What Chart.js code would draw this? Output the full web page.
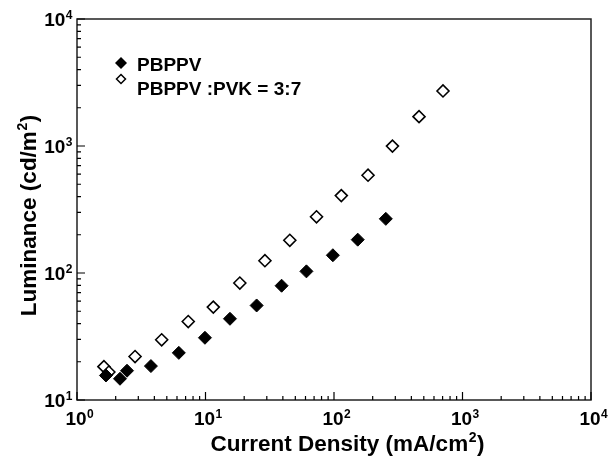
<!DOCTYPE html>
<html>
<head>
<meta charset="utf-8">
<script src="https://cdn.jsdelivr.net/npm/chart.js@4"></script>
<style>
  html, body { margin: 0; padding: 0; background: #fff; }
</style>
</head>
<body>
<canvas id="chartLuminance" width="608" height="457"></canvas>
<script>
// PBPPV (filled diamonds)
const pbppvX = [1.68, 2.16, 2.45, 3.76, 6.2, 9.9, 15.5, 25.0, 39.1, 61, 98, 153, 253];
const pbppvY = [15.6, 14.7, 17.0, 18.5, 23.5, 30.9, 43.6, 55.5, 79.4, 103, 138, 183, 267];

// PBPPV:PVK = 3:7 (open diamonds)
const blendX = [1.62, 1.77, 2.83, 4.56, 7.34, 11.5, 18.5, 29.0, 45.3, 73.1, 114, 184, 285, 459, 705];
const blendY = [18.3, 16.6, 22.0, 29.8, 41.5, 53.9, 83.4, 125, 181, 277, 407, 589, 998, 1703, 2713];

const xDecades = [1, 10, 100, 1000, 10000];
const yDecades = [10, 100, 1000, 10000];
const xExp = ['0', '1', '2', '3', '4'];
const yExp = ['1', '2', '3', '4'];

const legendLabels = ['PBPPV', 'PBPPV :PVK = 3:7'];
const xTitle = 'Current Density (mA/cm';
const yTitle = 'Luminance (cd/m';

function toPoints(xs, ys) {
  return xs.map((x, i) => ({ x: x, y: ys[i] }));
}

const FONT = "'Liberation Sans', Arial, sans-serif";

function drawDiamond(ctx, x, y, r, filled) {
  ctx.beginPath();
  ctx.moveTo(x, y - r);
  ctx.lineTo(x + r, y);
  ctx.lineTo(x, y + r);
  ctx.lineTo(x - r, y);
  ctx.closePath();
  if (filled) {
    ctx.fillStyle = '#000';
    ctx.fill();
  } else {
    ctx.fillStyle = '#fff';
    ctx.fill();
    ctx.lineWidth = 1.5;
    ctx.strokeStyle = '#000';
    ctx.stroke();
  }
}

// "10" with a raised exponent, centred on (x, y)
function drawPow(ctx, x, y, exp, align) {
  ctx.textBaseline = 'alphabetic';
  ctx.textAlign = 'left';
  ctx.font = 'bold 19px ' + FONT;
  const wBase = ctx.measureText('10').width;
  ctx.font = 'bold 12px ' + FONT;
  const wExp = ctx.measureText(exp).width;
  let left;
  if (align === 'right') left = x - wBase - wExp - 1;
  else left = x - wBase / 2 - 1;
  ctx.fillStyle = '#000';
  ctx.font = 'bold 19px ' + FONT;
  ctx.fillText('10', left, y + 7);
  ctx.font = 'bold 12px ' + FONT;
  ctx.fillText(exp, left + wBase + 0.5, y - 0.5);
}

// title text with a superscript "2" before the closing bracket
function drawTitle(ctx, text, cx, by) {
  ctx.font = 'bold 22.5px ' + FONT;
  const w1 = ctx.measureText(text).width;
  ctx.font = 'bold 14px ' + FONT;
  const w2 = ctx.measureText('2').width;
  ctx.font = 'bold 22.5px ' + FONT;
  const w3 = ctx.measureText(')').width;
  const left = cx - (w1 + w2 + w3) / 2;
  ctx.fillText(text, left, by);
  ctx.font = 'bold 14px ' + FONT;
  ctx.fillText('2', left + w1 + 0.5, by - 9);
  ctx.font = 'bold 22.5px ' + FONT;
  ctx.fillText(')', left + w1 + w2 + 1, by);
}

const axesPlugin = {
  id: 'axesPlugin',
  afterDatasetsDraw(chart) {
    const ctx = chart.ctx;
    const a = chart.chartArea;
    const xs = chart.scales.x;
    const ys = chart.scales.y;
    ctx.save();

    // frame
    ctx.strokeStyle = '#222';
    ctx.lineWidth = 1.5;
    ctx.strokeRect(a.left, a.top, a.right - a.left, a.bottom - a.top);

    // ticks pointing inward on bottom and left axes
    ctx.lineWidth = 1.2;
    ctx.strokeStyle = '#000';
    ctx.beginPath();
    for (let d = 0; d < xDecades.length; d++) {
      for (let m = 1; m <= 9; m++) {
        const v = xDecades[d] * m;
        if (v > xDecades[xDecades.length - 1]) break;
        const px = xs.getPixelForValue(v);
        const len = m === 1 ? 8 : 4;
        ctx.moveTo(px, a.bottom);
        ctx.lineTo(px, a.bottom - len);
      }
    }
    for (let d = 0; d < yDecades.length; d++) {
      for (let m = 1; m <= 9; m++) {
        const v = yDecades[d] * m;
        if (v > yDecades[yDecades.length - 1]) break;
        const py = ys.getPixelForValue(v);
        const len = m === 1 ? 8 : 4;
        ctx.moveTo(a.left, py);
        ctx.lineTo(a.left + len, py);
      }
    }
    ctx.stroke();

    // tick labels
    xDecades.forEach((v, i) => {
      drawPow(ctx, xs.getPixelForValue(v), a.bottom + 18, xExp[i], 'center');
    });
    yDecades.forEach((v, i) => {
      drawPow(ctx, a.left - 4, ys.getPixelForValue(v), yExp[i], 'right');
    });

    // axis titles
    ctx.fillStyle = '#000';
    ctx.textBaseline = 'alphabetic';
    ctx.textAlign = 'left';
    drawTitle(ctx, xTitle, (a.left + a.right) / 2 + 13, 451);

    ctx.save();
    ctx.translate(36, 216);
    ctx.rotate(-Math.PI / 2);
    drawTitle(ctx, yTitle, 0, 0);
    ctx.restore();

    // legend
    drawDiamond(ctx, 121, 63, 6, true);
    drawDiamond(ctx, 121, 79, 4.5, false);
    ctx.fillStyle = '#000';
    ctx.font = 'bold 19px ' + FONT;
    ctx.textAlign = 'left';
    ctx.fillText(legendLabels[0], 137, 71);
    ctx.fillText(legendLabels[1], 137, 95);

    ctx.restore();
  }
};

const ctx = document.getElementById('chartLuminance').getContext('2d');
const myChart = new Chart(ctx, {
  type: 'scatter',
  data: {
    datasets: [{
      label: legendLabels[0],
      data: toPoints(pbppvX, pbppvY),
      pointStyle: 'rectRot',
      pointRadius: 6.5,
      pointHoverRadius: 6.5,
      backgroundColor: '#000',
      borderColor: '#000',
      borderWidth: 1
    }, {
      label: legendLabels[1],
      data: toPoints(blendX, blendY),
      pointStyle: 'rectRot',
      pointRadius: 6,
      pointHoverRadius: 6,
      backgroundColor: '#fff',
      borderColor: '#000',
      borderWidth: 1.6
    }]
  },
  options: {
    responsive: false,
    animation: false,
    events: [],
    layout: { padding: { left: 77, top: 19, right: 17, bottom: 57 } },
    plugins: {
      legend: { display: false },
      tooltip: { enabled: false }
    },
    scales: {
      x: { type: 'logarithmic', min: 1, max: 10000, display: false },
      y: { type: 'logarithmic', min: 10, max: 10000, display: false }
    }
  },
  plugins: [axesPlugin]
});
</script>
</body>
</html>
